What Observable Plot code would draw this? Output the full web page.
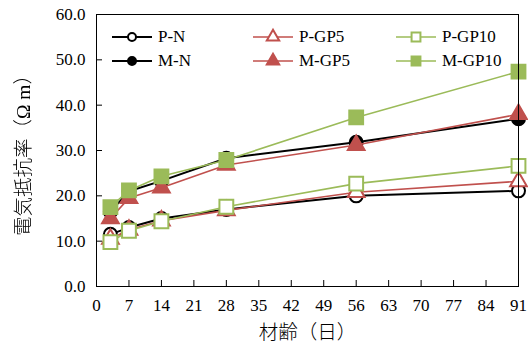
<!DOCTYPE html>
<html>
<head>
<meta charset="utf-8">
<script src="https://cdn.jsdelivr.net/npm/d3@7"></script>
<script src="https://cdn.jsdelivr.net/npm/@observablehq/plot@0.6"></script>
<style>
  html, body { margin: 0; padding: 0; background: #fff; }
  #wrap { position: relative; width: 528px; height: 352px; font-family: "Liberation Serif", "Noto Sans CJK JP", serif; }
  #legend { position: absolute; left: 111px; top: 27px; display: grid; grid-template-columns: 141px 143px 120px; row-gap: 4px; font-size: 17px; color: #000; }
  .item { display: flex; align-items: center; height: 20px; }
  .item svg { margin-right: 5px; }
  svg [aria-label="y-axis label"] text, svg [aria-label="x-axis label"] text { font-weight: 300; font-size: 19.5px; fill: #000; }
  svg [aria-label="y-axis label"] { filter: grayscale(100%); }
</style>
</head>
<body>
<div id="wrap"><div id="legend"></div></div>
<script>
const days = [3, 7, 14, 28, 56, 91];
const seriesNames = ["P-N", "P-GP5", "P-GP10", "M-N", "M-GP5", "M-GP10"];
const pN    = [11.5, 13.0, 15.0, 17.0, 20.0, 21.1];
const pGP5  = [10.5, 12.5, 14.5, 16.8, 20.8, 23.2];
const pGP10 = [9.8, 12.3, 14.4, 17.6, 22.7, 26.6];
const mN    = [16.5, 21.0, 23.3, 28.3, 31.8, 37.0];
const mGP5  = [15.0, 19.5, 21.8, 26.8, 31.2, 38.0];
const mGP10 = [17.5, 21.2, 24.3, 27.9, 37.3, 47.4];
const xTicks = [0, 7, 14, 21, 28, 35, 42, 49, 56, 63, 70, 77, 84, 91];
const yTicks = [0, 10, 20, 30, 40, 50, 60];
const xLabel = "材齢（日）";
const yLabel = "電気抵抗率（Ω m）";

const colors = {black: "#000000", red: "#C0504D", green: "#9BBB59"};
const values = [pN, pGP5, pGP10, mN, mGP5, mGP10];
const styles = [
  {color: colors.black, symbol: "circle",   filled: false, r: 6.5, lw: 2},
  {color: colors.red,   symbol: "triangle", filled: false, r: 6.2, lw: 1.6},
  {color: colors.green, symbol: "square",   filled: false, r: 7.8, lw: 1.6},
  {color: colors.black, symbol: "circle",   filled: true,  r: 6.5, lw: 2},
  {color: colors.red,   symbol: "triangle", filled: true,  r: 6.2, lw: 1.6},
  {color: colors.green, symbol: "square",   filled: true,  r: 7.8, lw: 1.6}
];

const marks = [];
styles.forEach((s, k) => {
  const data = days.map((d, i) => ({day: d, value: values[k][i]}));
  marks.push(Plot.line(data, {x: "day", y: "value", stroke: s.color, strokeWidth: s.lw}));
  marks.push(Plot.dot(data, {x: "day", y: "value", symbol: () => s.symbol, r: s.r,
    fill: s.filled ? s.color : "#ffffff", stroke: s.color, strokeWidth: 2}));
});

const chart = Plot.plot({
  width: 528,
  height: 352,
  marginLeft: 96,
  marginRight: 10,
  marginTop: 14,
  marginBottom: 66,
  style: {fontFamily: "'Liberation Serif', 'Noto Sans CJK JP', serif", fontSize: "17px", color: "#000", background: "#fff"},
  x: {domain: [0, 91]},
  y: {domain: [0, 60]},
  marks: [
    Plot.axisX({ticks: xTicks, tickSize: -6, tickPadding: 18, tickFormat: d => String(d), stroke: "#000",
      label: xLabel, labelAnchor: "center", labelArrow: "none", labelOffset: 52}),
    Plot.axisY({ticks: yTicks, tickSize: -6, tickPadding: 17, tickFormat: d => d.toFixed(1), stroke: "#000",
      label: yLabel, labelAnchor: "center", labelArrow: "none", labelOffset: 80}),
    ...marks,
    Plot.frame({stroke: "#000", strokeWidth: 1})
  ]
});
document.getElementById("wrap").prepend(chart);

// Legend
const legend = d3.select("#legend");
styles.forEach((s, k) => {
  const item = legend.append("div").attr("class", "item");
  const svg = item.append("svg").attr("width", 42).attr("height", 20);
  svg.append("line").attr("x1", 1).attr("x2", 41).attr("y1", 10).attr("y2", 10)
    .attr("stroke", s.color).attr("stroke-width", s.lw);
  const sym = {circle: d3.symbolCircle, triangle: d3.symbolTriangle, square: d3.symbolSquare}[s.symbol];
  const rr = s.symbol === "circle" ? 4 : s.symbol === "triangle" ? 4.6 : 5;
  svg.append("path").attr("d", d3.symbol(sym, Math.PI * rr * rr)())
    .attr("transform", "translate(21,10)")
    .attr("fill", s.filled ? s.color : "#fff").attr("stroke", s.color).attr("stroke-width", 2);
  item.append("span").text(seriesNames[k]);
});
</script>
</body>
</html>
